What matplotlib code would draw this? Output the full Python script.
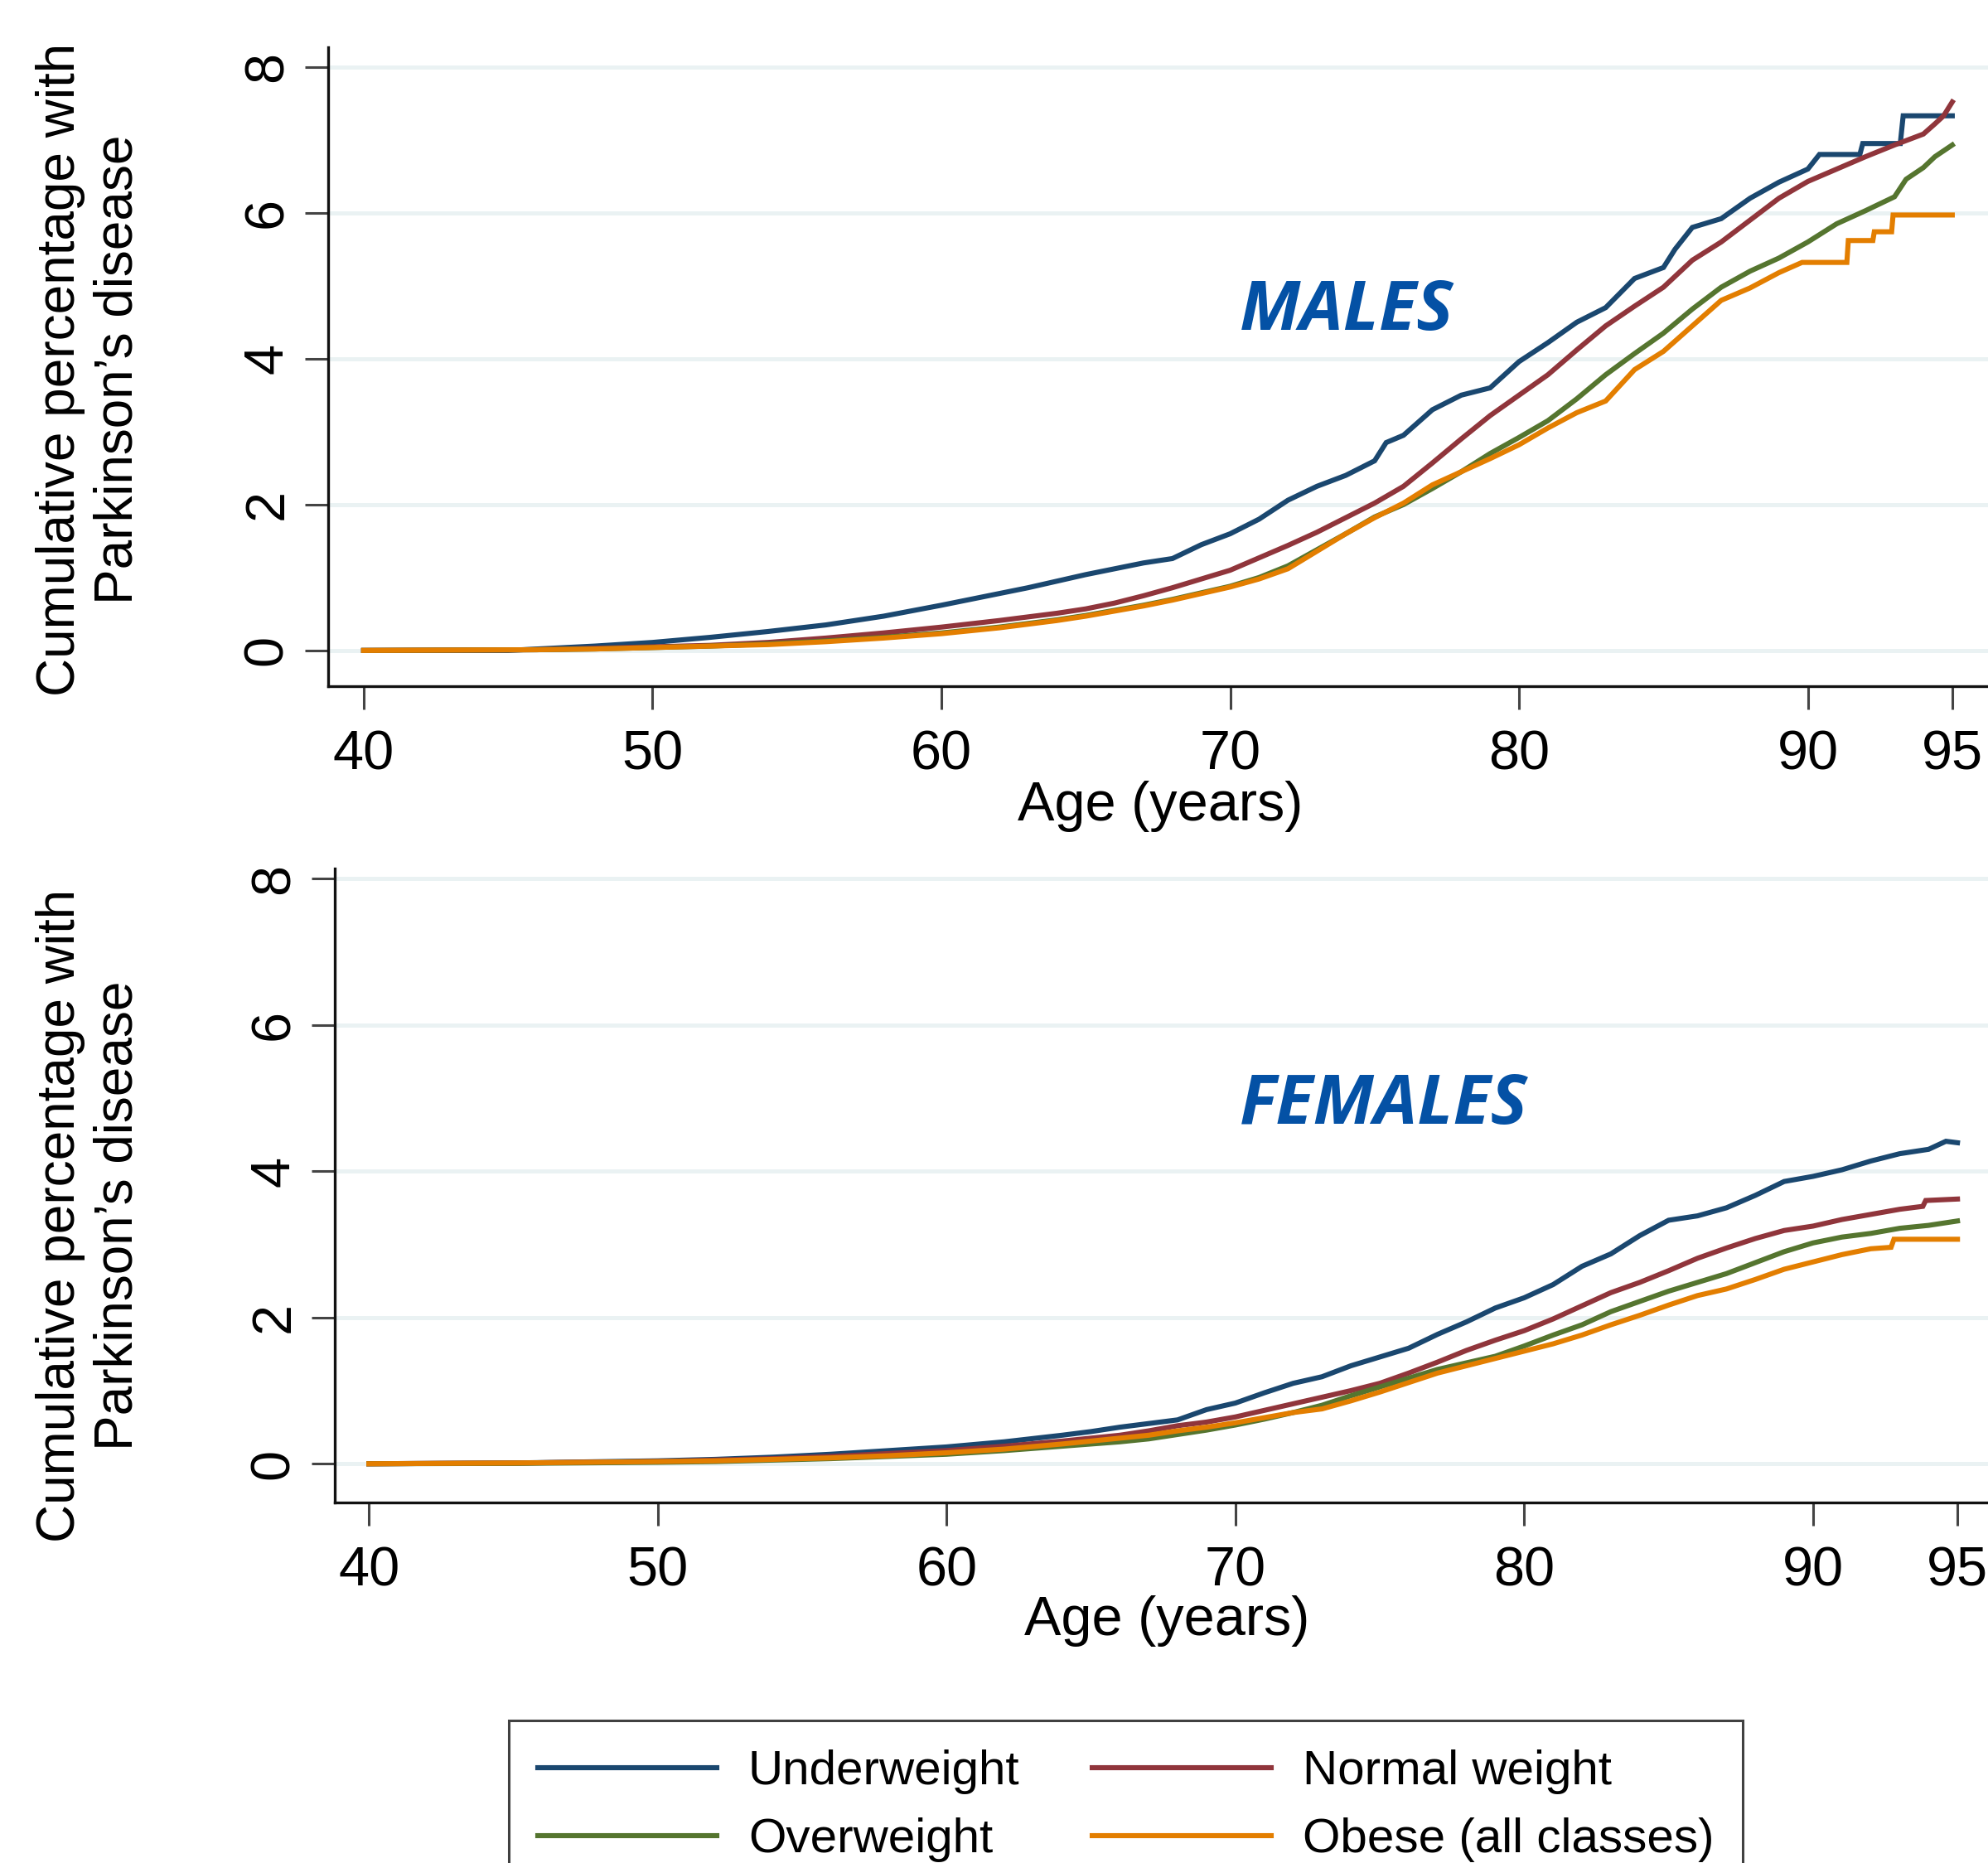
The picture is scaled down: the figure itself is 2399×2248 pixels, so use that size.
import numpy as np
import matplotlib
matplotlib.use('Agg')
import matplotlib.pyplot as plt

plt.rcParams['font.family'] = ['Liberation Sans', 'DejaVu Sans']

# cumulative percentage with Parkinson's disease
early = [40, 46, 48, 50, 52, 54, 56, 58, 60, 62, 64]

m_under_age = [40, 45, 46, 48, 50, 52, 54, 56, 58, 60] + list(range(61, 76)) + [75.4] + list(range(76, 86)) \
    + [85.4, 86, 87, 88, 89, 90, 90.4, 91.8, 91.9, 93.2, 93.3, 95]
m_under_pct = [0, 0, 0.02, 0.06, 0.11, 0.18, 0.26, 0.35, 0.47, 0.62,
               0.7, 0.78, 0.86, 0.95, 1.04, 1.12, 1.2, 1.26, 1.45, 1.6, 1.8, 2.06, 2.25, 2.4, 2.6,
               2.85,
               2.95, 3.3, 3.5, 3.6, 3.96, 4.22, 4.5, 4.7, 5.1, 5.25,
               5.5, 5.8, 5.92, 6.2, 6.42, 6.6, 6.8, 6.8, 6.95, 6.95, 7.33, 7.33]

m_normal_age = early + list(range(65, 95)) + [94.4, 94.7, 95]
m_normal_pct = [0, 0.01, 0.03, 0.05, 0.07, 0.11, 0.17, 0.24, 0.32, 0.41, 0.51,
                0.57, 0.65, 0.75, 0.86, 0.98, 1.1, 1.27, 1.44, 1.62, 1.82,
                2.02, 2.25, 2.57, 2.9, 3.22, 3.5, 3.78, 4.12, 4.45, 4.72,
                4.98, 5.35, 5.6, 5.9, 6.2, 6.43, 6.6, 6.77, 6.93, 7.08,
                7.22, 7.33, 7.52]

m_over_age = early + list(range(65, 94)) + [93.4, 94, 94.4, 95]
m_over_pct = [0, 0.01, 0.02, 0.04, 0.06, 0.09, 0.13, 0.18, 0.24, 0.32, 0.42,
              0.48, 0.55, 0.62, 0.7, 0.79, 0.88, 1.0, 1.16, 1.38, 1.6,
              1.83, 2.0, 2.22, 2.45, 2.7, 2.92, 3.15, 3.45, 3.78, 4.07,
              4.35, 4.68, 4.98, 5.2, 5.38, 5.6, 5.85, 6.03, 6.22,
              6.46, 6.62, 6.77, 6.93]

m_obese_age = early + list(range(65, 90)) + [89.8, 91.35, 91.4, 92.25, 92.3, 92.9, 92.95, 95]
m_obese_pct = [0, 0.01, 0.02, 0.04, 0.06, 0.08, 0.12, 0.17, 0.23, 0.31, 0.41,
               0.47, 0.54, 0.61, 0.69, 0.78, 0.87, 0.98, 1.12, 1.36, 1.6,
               1.82, 2.02, 2.27, 2.45, 2.63, 2.82, 3.05, 3.26, 3.42, 3.85,
               4.1, 4.45, 4.8, 4.97, 5.18,
               5.32, 5.32, 5.62, 5.62, 5.74, 5.74, 5.97, 5.97]

f_early = [40, 45, 50, 52, 54, 56, 58, 60, 62, 64]

f_under_age = f_early + list(range(65, 95)) + [94.6, 95]
f_under_pct = [0, 0.01, 0.04, 0.06, 0.09, 0.13, 0.18, 0.23, 0.3, 0.39,
               0.44, 0.5, 0.55, 0.6, 0.74, 0.83, 0.97, 1.1, 1.19, 1.34,
               1.46, 1.58, 1.77, 1.94, 2.13, 2.27, 2.45, 2.7, 2.87, 3.12,
               3.33, 3.39, 3.5, 3.67, 3.86, 3.93, 4.02, 4.14, 4.24, 4.3,
               4.41, 4.39]

f_normal_age = f_early + list(range(65, 94)) + [93.8, 93.9, 95]
f_normal_pct = [0, 0.01, 0.03, 0.05, 0.07, 0.1, 0.14, 0.18, 0.24, 0.31,
                0.35, 0.39, 0.45, 0.52, 0.57, 0.64, 0.73, 0.82, 0.91, 1.0,
                1.1, 1.24, 1.39, 1.55, 1.69, 1.82, 1.98, 2.16, 2.34, 2.48,
                2.64, 2.81, 2.95, 3.08, 3.19, 3.25, 3.34, 3.41, 3.48,
                3.52, 3.6, 3.62]

f_over_age = f_early + list(range(65, 96))
f_over_pct = [0, 0.005, 0.02, 0.03, 0.05, 0.07, 0.1, 0.13, 0.18, 0.24,
              0.27, 0.3, 0.34, 0.4, 0.46, 0.53, 0.61, 0.7, 0.8, 0.93,
              1.05, 1.17, 1.29, 1.38, 1.47, 1.61, 1.76, 1.9, 2.08, 2.22,
              2.36, 2.48, 2.6, 2.75, 2.9, 3.02, 3.1, 3.15, 3.22, 3.26, 3.32]

f_obese_age = f_early + list(range(65, 93)) + [92.7, 92.8, 95]
f_obese_pct = [0, 0.01, 0.03, 0.04, 0.06, 0.08, 0.11, 0.15, 0.2, 0.27,
               0.31, 0.35, 0.39, 0.45, 0.5, 0.56, 0.63, 0.7, 0.75, 0.86,
               0.98, 1.11, 1.24, 1.34, 1.44, 1.54, 1.64, 1.76, 1.9, 2.03,
               2.17, 2.3, 2.39, 2.52, 2.66, 2.76, 2.86, 2.94,
               2.96, 3.07, 3.07]

labels = ['Underweight', 'Normal weight', 'Overweight', 'Obese (all classes)']
colors = ['#1A476F', '#90353B', '#55752F', '#E37E00']
xticks = [40, 50, 60, 70, 80, 90, 95]
yticks = [0, 2, 4, 6, 8]

males = [(m_under_age, m_under_pct), (m_normal_age, m_normal_pct),
         (m_over_age, m_over_pct), (m_obese_age, m_obese_pct)]
females = [(f_under_age, f_under_pct), (f_normal_age, f_normal_pct),
           (f_over_age, f_over_pct), (f_obese_age, f_obese_pct)]

W, H = 2399, 2248
fig = plt.figure(figsize=(W / 100, H / 100), dpi=100)


def panel(rect, series, xlim, ylim, name, name_xy):
    ax = fig.add_axes(rect)
    lines = []
    for (age, pct), c, lab in zip(series, colors, labels):
        ln, = ax.plot(age, pct, color=c, lw=4.4, label=lab, solid_joinstyle='miter')
        lines.append(ln)
    ax.set_xlim(*xlim)
    ax.set_ylim(*ylim)
    ax.set_xticks(xticks)
    ax.set_yticks(yticks)
    ax.yaxis.grid(True, color='#EAF2F3', lw=3.6)
    ax.set_axisbelow(True)
    for s in ['top', 'right']:
        ax.spines[s].set_visible(False)
    for s in ['left', 'bottom']:
        ax.spines[s].set_linewidth(2.4)
        ax.spines[s].set_color('#111111')
    ax.tick_params(axis='both', direction='out', length=20, width=2.2, color='#444444',
                   labelsize=48)
    ax.tick_params(axis='x', pad=18)
    ax.tick_params(axis='y', pad=10, labelrotation=90)
    for t in ax.get_yticklabels():
        t.set_va('center')
    ax.text(name_xy[0], name_xy[1], name, color='#0451A5', fontsize=60,
            fontweight='bold', fontstyle='italic', family=['Open Sans', 'DejaVu Sans'],
            ha='left', va='baseline')
    return ax, lines


ax1, lines = panel([396 / W, 1 - 828 / H, (2404 - 396) / W, (828 - 57) / H], males,
                   (38.77, 96.38), (-0.49, 8.27), 'MALES', (70.33, 4.40))
ax2, _ = panel([404 / W, 1 - 1813 / H, (2404 - 404) / W, (1813 - 1048) / H], females,
               (38.82, 96.2), (-0.53, 8.14), 'FEMALES', (70.15, 4.65))

ylab = 'Cumulative percentage with\nParkinson\u2019s disease'
fig.text(108 / W, 1 - 446 / H, ylab, rotation=90, ha='center', va='center',
         multialignment='center', fontsize=46)
fig.text(108 / W, 1 - 1467 / H, ylab, rotation=90, ha='center', va='center',
         multialignment='center', fontsize=46)
fig.text(1400 / W, 1 - 973 / H, 'Age (years)', ha='center', va='center', fontsize=48)
fig.text(1408 / W, 1 - 1956 / H, 'Age (years)', ha='center', va='center', fontsize=48)

order = [0, 2, 1, 3]
leg = fig.legend([lines[i] for i in order], [labels[i] for i in order], ncol=2,
                 loc='upper left', bbox_to_anchor=(614 / W, 1 - 2076 / H),
                 borderaxespad=0, fontsize=42, frameon=True, fancybox=False,
                 handlelength=3.7, handletextpad=0.65, columnspacing=1.5,
                 labelspacing=0.48, borderpad=0.6)
leg.get_frame().set_edgecolor('#111111')
leg.get_frame().set_linewidth(2.2)

fig.savefig('out.png', dpi=100)
